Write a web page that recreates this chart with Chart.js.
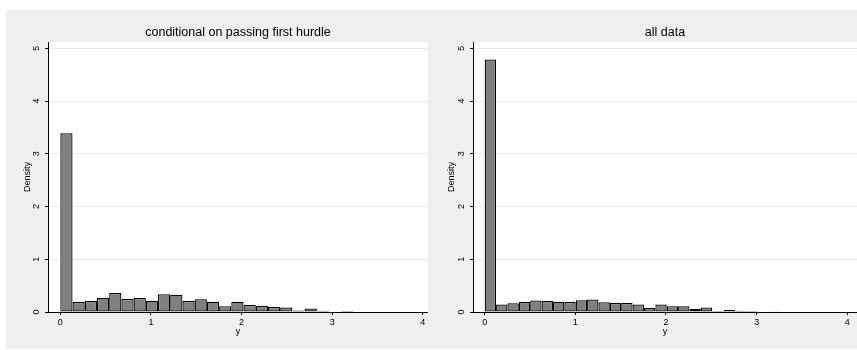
<!DOCTYPE html>
<html><head><meta charset="utf-8">
<script src="https://cdn.jsdelivr.net/npm/chart.js@4.4.0/dist/chart.umd.min.js"></script>
<style>
html,body{margin:0;padding:0;background:#fff;width:857px;height:350px;overflow:hidden;}
#bg{position:absolute;left:6px;top:10px;width:851px;height:339px;background:#efefef;}
.box{position:absolute;top:10px;height:339px;}
#c1box{left:6px;width:422px;}
#c2box{left:428px;width:429px;}
canvas{display:block;}
</style></head><body>
<div id="bg"></div>
<div class="box" id="c1box"><canvas id="c1" width="422" height="339"></canvas></div>
<div class="box" id="c2box"><canvas id="c2" width="429" height="339"></canvas></div>
<script>
// ---- data ----
const leftTitle = "conditional on passing first hurdle";
const rightTitle = "all data";
const xTitle = "y";
const yTitle = "Density";
const xTickValues = [0, 1, 2, 3, 4];
const yTickValues = [0, 1, 2, 3, 4, 5];

const leftBinStart = 0;
const leftBinWidth = 0.1348;
const leftDensity = [3.39, 0.19, 0.21, 0.27, 0.36, 0.245, 0.265, 0.215, 0.335, 0.325,
  0.21, 0.24, 0.195, 0.11, 0.195, 0.135, 0.115, 0.095, 0.085, 0.03,
  0.065, 0.025, 0, 0.02, 0.01, 0, 0.01];

const rightBinStart = 0;
const rightBinWidth = 0.1255;
const rightDensity = [4.79, 0.14, 0.165, 0.19, 0.22, 0.21, 0.195, 0.19, 0.225, 0.235,
  0.185, 0.17, 0.17, 0.14, 0.075, 0.14, 0.11, 0.11, 0.055, 0.085,
  0.02, 0.045, 0.022, 0.02, 0, 0.016, 0.008, 0, 0.008];

// ---- chart ----
const FONT = "'Liberation Sans', Arial, Helvetica, sans-serif";

const plotBg = {
  id: 'plotBg',
  beforeDraw(chart) {
    const {ctx, chartArea: a} = chart;
    ctx.save();
    ctx.fillStyle = '#ffffff';
    ctx.fillRect(a.left, a.top, a.right - a.left, a.bottom - a.top);
    ctx.restore();
  }
};

function makeHist(id, title, binStart, binWidth, density, xMin, xMax, yAxisWidth, yTitlePad) {
  const points = density.map((d, i) => ({x: binStart + (i + 0.5) * binWidth, y: d}));
  new Chart(document.getElementById(id), {
    type: 'bar',
    data: {
      datasets: [{
        data: points,
        backgroundColor: '#808080',
        borderColor: '#000000',
        borderWidth: 1.25,
        borderSkipped: false,
        barPercentage: 1,
        categoryPercentage: 1,
        inflateAmount: 0
      }]
    },
    options: {
      responsive: false,
      animation: false,
      layout: {padding: 0},
      plugins: {
        legend: {display: false},
        tooltip: {enabled: false},
        title: {
          display: true,
          text: title,
          fullSize: false,
          color: '#000',
          font: {family: FONT, size: 12.5, weight: 'normal'},
          padding: {top: 15.5, bottom: 1.5}
        }
      },
      scales: {
        x: {
          type: 'linear',
          min: xMin,
          max: xMax,
          offset: false,
          afterFit(axis) { axis.height = 37; },
          afterBuildTicks(axis) { axis.ticks = xTickValues.map(v => ({value: v})); },
          ticks: {
            color: '#000',
            font: {family: FONT, size: 9},
            padding: 2,
            maxRotation: 0,
            minRotation: 0,
            includeBounds: false,
            callback: v => String(v)
          },
          grid: {
            offset: false,
            drawOnChartArea: false,
            drawTicks: true,
            tickLength: 3,
            tickColor: '#000',
            tickWidth: 1
          },
          border: {display: true, color: '#000', width: 1},
          title: {
            display: true,
            text: xTitle,
            color: '#000',
            font: {family: FONT, size: 9},
            padding: {top: 0, bottom: 12.5}
          }
        },
        y: {
          type: 'linear',
          min: 0,
          max: 5.12,
          afterFit(axis) { axis.width = yAxisWidth; },
          afterBuildTicks(axis) { axis.ticks = yTickValues.map(v => ({value: v})); },
          ticks: {
            color: '#000',
            font: {family: FONT, size: 9},
            padding: 5.5,
            minRotation: 90,
            maxRotation: 90,
            crossAlign: 'center',
            includeBounds: false,
            callback: v => String(v)
          },
          grid: {
            color: '#ebebeb',
            lineWidth: 1,
            drawTicks: true,
            tickLength: 3,
            tickColor: '#000',
            tickWidth: 1
          },
          border: {display: true, color: '#000', width: 1},
          title: {
            display: true,
            text: yTitle,
            color: '#000',
            font: {family: FONT, size: 9},
            padding: {top: yTitlePad, bottom: 0}
          }
        }
      }
    },
    plugins: [plotBg]
  });
}

makeHist('c1', leftTitle, leftBinStart, leftBinWidth, leftDensity, -0.136, 4.058, 42, 16.3);
makeHist('c2', rightTitle, rightBinStart, rightBinWidth, rightDensity, -0.129, 4.107, 45, 17.9);
</script>
</body></html>
